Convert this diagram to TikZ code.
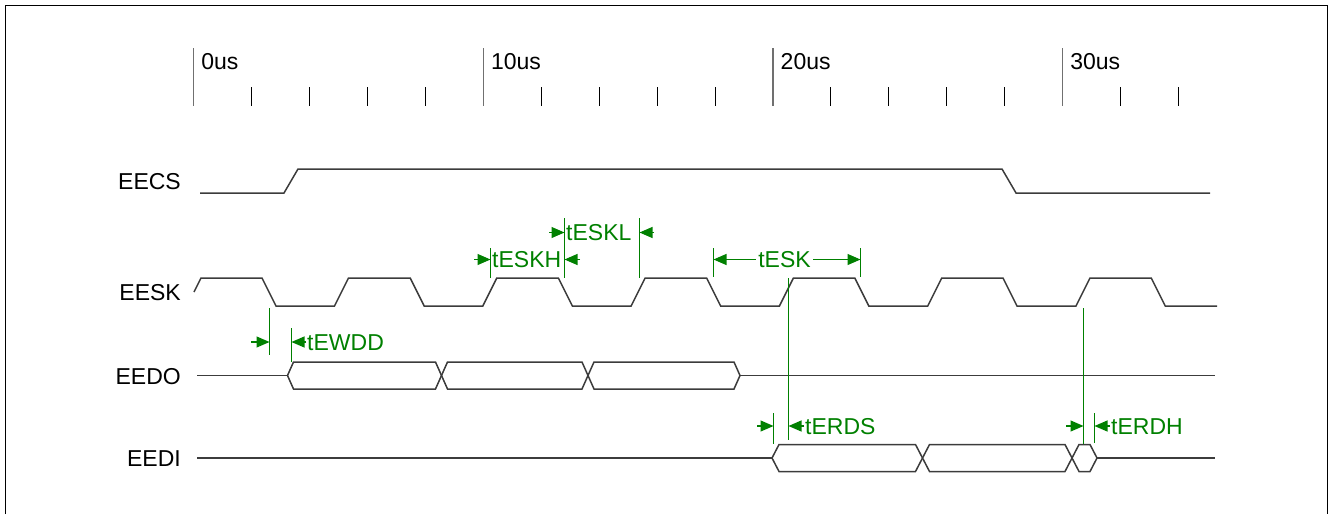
\documentclass[tikz,border=0pt]{standalone}
\usepackage{fontspec}
\setmainfont{Liberation Sans}
\usetikzlibrary{arrows.meta}
\definecolor{sig}{HTML}{3C3C3C}
\definecolor{ann}{HTML}{008000}
\definecolor{majc}{HTML}{707070}
\tikzset{
  sigline/.style={draw=sig, line width=1.5pt, line join=miter},
  frameline/.style={draw=black, line width=1.5pt},
  majortick/.style={draw=majc, line width=1.3pt},
  minortick/.style={draw=black, line width=1.1pt},
  lbl/.style={font=\fontsize{23}{27}\selectfont, inner sep=0pt, text=black},
  alb/.style={font=\fontsize{23}{27}\selectfont, inner sep=0pt, text=ann},
  ext/.style={draw=ann, line width=1.2pt},
  dimarr/.style={draw=ann, line width=1.1pt, -{Triangle[length=13pt,width=11pt]}},
  dimboth/.style={draw=ann, line width=1.1pt, {Triangle[length=13pt,width=11pt]}-{Triangle[length=13pt,width=11pt]}},
}
\begin{document}
\begin{tikzpicture}[x=1pt,y=-1pt]
\useasboundingbox (0,0) rectangle (1329,514);
% frame
\draw[frameline] (5.7,514) -- (5.7,5.7) -- (1327.7,5.7) -- (1327.7,514);
% time axis
\foreach \i in {1,2,3,4,6,7,8,9,11,12,13,14,16,17}{
  \draw[minortick] ({193.7+57.93*\i},87) -- ({193.7+57.93*\i},106);
}
\foreach \k/\t in {0/0us,1/10us,2/20us,3/30us}{
  \draw[majortick] ({193.7+289.65*\k},48) -- ({193.7+289.65*\k},106);
  \node[lbl, anchor=base west] (t\k) at ({193.7+289.65*\k+7.5},69.5) {\t};
}
% signal labels
\node[lbl, anchor=base east] (lcs) at (181,189.5) {EECS};
\node[lbl, anchor=base east] (lsk) at (181,300.5) {EESK};
\node[lbl, anchor=base east] (ldo) at (181,384) {EEDO};
\node[lbl, anchor=base east] (ldi) at (181,466.5) {EEDI};
% EECS
\draw[sigline] (200,193) -- (284,193) -- (298,169) -- (1002,169) -- (1016,193) -- (1210,193);
% EESK
\draw[sigline] (194,292) -- (201,278) -- (262,278) -- (276,306) -- (334.5,306) -- (348.5,278)
  -- (410.2,278) -- (424.2,306) -- (482.8,306) -- (496.8,278) -- (558.4,278) -- (572.4,306)
  -- (631.1,306) -- (645.1,278) -- (706.6,278) -- (720.6,306) -- (779.4,306) -- (793.4,278)
  -- (854.8,278) -- (868.8,306) -- (927.7,306) -- (941.7,278) -- (1003,278) -- (1017,306)
  -- (1076,306) -- (1090,278) -- (1151.2,278) -- (1165.2,306) -- (1217,306);
% EEDO
\draw[sigline] (197,375.5) -- (287.5,375.5);
\foreach \a/\b in {287.5/441.5,441.5/588,588/740}{
  \draw[sigline] (\a,375.5) -- (\a+6,362) -- (\b-6,362) -- (\b,375.5) -- (\b-6,389) -- (\a+6,389) -- cycle;
}
\draw[sigline] (740,375.5) -- (1215,375.5);
% EEDI
\draw[sigline] (197,458) -- (772,458);
\foreach \a/\b in {772/922.5,922.5/1072,1072/1097}{
  \draw[sigline] (\a,458) -- (\a+7,444.5) -- (\b-7,444.5) -- (\b,458) -- (\b-7,471.5) -- (\a+7,471.5) -- cycle;
}
\draw[sigline] (1097,458) -- (1215,458);
% ---- annotations ----
% tEWDD
\draw[ext] (269.5,308) -- (269.5,355);
\draw[ext] (291.5,328) -- (291.5,362);
\coordinate (ewddA) at (251,342); \coordinate (ewddB) at (269.5,342);
\coordinate (ewddC) at (306,342); \coordinate (ewddD) at (291.5,342);
\draw[dimarr] (ewddA) -- (ewddB);
\draw[dimarr] (ewddC) -- (ewddD);
\node[alb, anchor=base west] (tewdd) at (307,350) {tEWDD};
% tESKH
\draw[ext] (490.5,248) -- (490.5,278);
\draw[ext] (564.5,218) -- (564.5,278);
\coordinate (skhA) at (474,259.5); \coordinate (skhB) at (490.5,259.5);
\coordinate (skhC) at (580,259.5); \coordinate (skhD) at (564.5,259.5);
\draw[dimarr] (skhA) -- (skhB);
\draw[dimarr] (skhC) -- (skhD);
\node[alb, anchor=base west] (teskh) at (492,267.5) {tESKH};
% tESKL
\draw[ext] (639.5,218) -- (639.5,278);
\coordinate (sklA) at (549,232.5); \coordinate (sklB) at (564.5,232.5);
\coordinate (sklC) at (654,232.5); \coordinate (sklD) at (639.5,232.5);
\draw[dimarr] (sklA) -- (sklB);
\draw[dimarr] (sklC) -- (sklD);
\node[alb, anchor=base west] (teskl) at (566,240.5) {tESKL};
% tESK
\draw[ext] (713.5,248) -- (713.5,277);
\draw[ext] (860.5,248) -- (860.5,277);
\coordinate (skA) at (713.5,259.5); \coordinate (skB) at (860.5,259.5);
\draw[dimboth] (skA) -- (skB);
\node[alb, fill=white, inner xsep=2pt, anchor=base] (tesk) at (784.5,267.5) {tESK};
% tERDS
\draw[ext] (773.5,413) -- (773.5,444);
\draw[ext] (788.5,278) -- (788.5,440);
\coordinate (rdsA) at (757,426); \coordinate (rdsB) at (773.5,426);
\coordinate (rdsC) at (804,426); \coordinate (rdsD) at (788.5,426);
\draw[dimarr] (rdsA) -- (rdsB);
\draw[dimarr] (rdsC) -- (rdsD);
\node[alb, anchor=base west] (terds) at (805,434) {tERDS};
% tERDH
\draw[ext] (1083.5,308) -- (1083.5,444);
\draw[ext] (1094.5,413) -- (1094.5,443);
\coordinate (rdhA) at (1066,426); \coordinate (rdhB) at (1083.5,426);
\coordinate (rdhC) at (1110,426); \coordinate (rdhD) at (1094.5,426);
\draw[dimarr] (rdhA) -- (rdhB);
\draw[dimarr] (rdhC) -- (rdhD);
\node[alb, anchor=base west] (terdh) at (1111,434) {tERDH};
\end{tikzpicture}
\end{document}
